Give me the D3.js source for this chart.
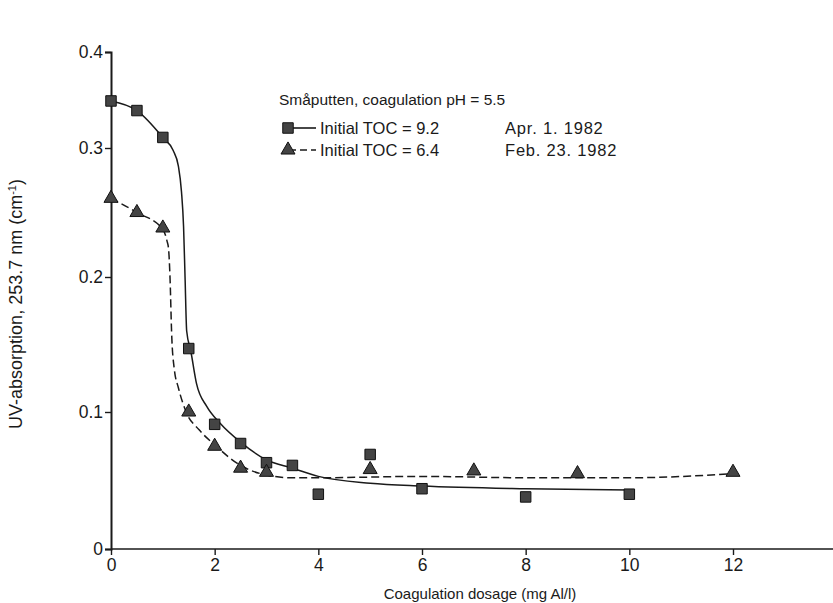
<!DOCTYPE html>
<html>
<head>
<meta charset="utf-8">
<script src="https://cdn.jsdelivr.net/npm/d3@7"></script>
<style>
  body { margin: 0; background: #fff; }
  svg { font-family: "Liberation Sans", Arial, sans-serif; }
</style>
</head>
<body>
<svg id="chart" width="833" height="603"></svg>
<script>
// measured points, TOC 9.2 (Apr. 1. 1982)
const dose92 = [0, 0.5, 1.0, 1.5, 2.0, 2.5, 3.0, 3.5, 4.0, 5.0, 6.0, 8.0, 10.0];
const uv92 = [0.349, 0.339, 0.311, 0.147, 0.091, 0.077, 0.063, 0.061, 0.040, 0.069, 0.044, 0.038, 0.040];

// measured points, TOC 6.4 (Feb. 23. 1982)
const dose64 = [0, 0.5, 1.0, 1.5, 2.0, 2.5, 3.0, 5.0, 7.0, 9.0, 12.0];
const uv64 = [0.261, 0.250, 0.238, 0.100, 0.075, 0.059, 0.056, 0.058, 0.057, 0.055, 0.056];

// hand drawn fitted curves
const fitDose92 = [0, 0.5, 1.0, 1.2, 1.3, 1.36, 1.4, 1.43, 1.46, 1.54, 1.65, 1.85, 2.1, 2.5, 3.0, 3.5, 4.0, 5.0, 6.0, 8.0, 10.0];
const fitUv92 = [0.349, 0.339, 0.311, 0.298, 0.286, 0.266, 0.239, 0.198, 0.160, 0.145, 0.121, 0.104, 0.092, 0.078, 0.065, 0.059, 0.053, 0.048, 0.046, 0.044, 0.043];
const fitDose64 = [0, 0.5, 1.0, 1.08, 1.11, 1.14, 1.17, 1.22, 1.3, 1.45, 1.7, 2.0, 2.5, 3.0, 3.5, 4, 6, 8, 10, 12];
const fitUv64 = [0.261, 0.250, 0.237, 0.228, 0.222, 0.198, 0.158, 0.132, 0.118, 0.100, 0.087, 0.076, 0.061, 0.054, 0.052, 0.052, 0.053, 0.052, 0.052, 0.055];

const xTicks = [0, 2, 4, 6, 8, 10, 12];
const yTicks = [0, 0.1, 0.2, 0.3, 0.4];

const svg = d3.select("#chart");

const x = d3.scaleLinear().domain([0, 12]).range([111, 733]);
// the scanned axis is not evenly spaced, so each tick gets its own position
const y = d3.scaleLinear().domain([0, 0.1, 0.2, 0.3, 0.4]).range([549, 412, 277, 148, 52]);

const ink = "#1a1a1a";

// axes
svg.append("line")
    .attr("x1", x(0)).attr("x2", 833)
    .attr("y1", y(0)).attr("y2", y(0))
    .attr("stroke", ink).attr("stroke-width", 1.6);

const xAxis = svg.append("g")
    .attr("transform", "translate(0," + y(0) + ")")
    .call(d3.axisBottom(x).tickValues(xTicks).tickFormat(d3.format("d")).tickSize(6).tickPadding(4));
xAxis.select(".domain").remove();

const yAxis = svg.append("g")
    .attr("transform", "translate(" + x(0) + ",0)")
    .call(d3.axisLeft(y).tickValues(yTicks).tickFormat(d => d === 0 ? "0" : d3.format(".1f")(d)).tickSize(6).tickPadding(2));
yAxis.select(".domain").attr("stroke-width", 2).attr("stroke", ink);

svg.selectAll(".tick line").attr("stroke", ink).attr("stroke-width", 1.4);
svg.selectAll(".tick text").attr("fill", ink).style("font-size", "17.5px");

// axis titles
svg.append("text")
    .attr("x", 480).attr("y", 599)
    .attr("text-anchor", "middle")
    .attr("fill", ink)
    .style("font-size", "15px")
    .text("Coagulation dosage (mg Al/l)");

const yt = svg.append("text")
    .attr("transform", "translate(22,304) rotate(-90)")
    .attr("text-anchor", "middle")
    .attr("fill", ink)
    .style("font-size", "18px");
yt.append("tspan").text("UV-absorption, 253.7 nm (cm");
yt.append("tspan").attr("dy", -6).style("font-size", "11px").text("-1");
yt.append("tspan").attr("dy", 6).text(")");

// fitted curves
const fit = d3.line()
    .x(d => x(d[0]))
    .y(d => y(d[1]))
    .curve(d3.curveMonotoneX);

svg.append("path")
    .attr("d", fit(d3.zip(fitDose92, fitUv92)))
    .attr("fill", "none").attr("stroke", ink).attr("stroke-width", 1.5);

svg.append("path")
    .attr("d", fit(d3.zip(fitDose64, fitUv64)))
    .attr("fill", "none").attr("stroke", ink).attr("stroke-width", 1.5)
    .attr("stroke-dasharray", "8,4");

// markers
const sq = d3.symbol().type(d3.symbolSquare).size(110);
const tri = d3.symbol().type(d3.symbolTriangle).size(85);

svg.selectAll(".p92")
    .data(d3.zip(dose92, uv92))
    .enter().append("path")
    .attr("class", "p92")
    .attr("d", sq)
    .attr("transform", d => "translate(" + x(d[0]) + "," + y(d[1]) + ")")
    .attr("fill", "#444").attr("stroke", "#111").attr("stroke-width", 1);

svg.selectAll(".p64")
    .data(d3.zip(dose64, uv64))
    .enter().append("path")
    .attr("class", "p64")
    .attr("d", tri)
    .attr("transform", d => "translate(" + x(d[0]) + "," + y(d[1]) + ")")
    .attr("fill", "#444").attr("stroke", "#111").attr("stroke-width", 1);

// legend
const lg = svg.append("g").attr("fill", ink).style("font-size", "16.5px");
lg.append("text").attr("x", 279).attr("y", 105).style("font-size", "15.5px").text("Småputten, coagulation pH = 5.5");

const rows = [
    { mark: sq, dash: null, label: "Initial TOC = 9.2", date: "Apr. 1. 1982", y: 128 },
    { mark: tri, dash: "7,4", label: "Initial TOC = 6.4", date: "Feb. 23. 1982", y: 150 }
];
rows.forEach(r => {
    lg.append("line")
        .attr("x1", 289).attr("x2", 316)
        .attr("y1", r.y).attr("y2", r.y)
        .attr("stroke", ink).attr("stroke-width", 1.6)
        .attr("stroke-dasharray", r.dash);
    lg.append("path")
        .attr("d", r.mark)
        .attr("transform", "translate(288," + r.y + ")")
        .attr("fill", "#444").attr("stroke", "#111");
    lg.append("text").attr("x", 320).attr("y", r.y + 6).text(r.label);
    lg.append("text").attr("x", 505).attr("y", r.y + 6).style("letter-spacing", "0.8px").text(r.date);
});
</script>
</body>
</html>
